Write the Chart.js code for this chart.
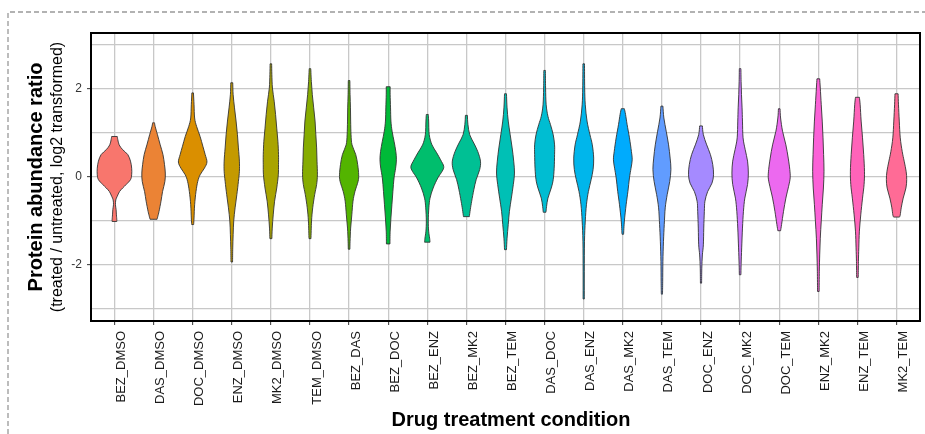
<!DOCTYPE html>
<html><head><meta charset="utf-8">
<script src="https://cdn.jsdelivr.net/npm/chart.js@4/dist/chart.umd.min.js"></script>
<style>html,body{margin:0;padding:0;background:#fff;}canvas{display:block;}</style>
</head><body>
<canvas id="c" width="925" height="434"></canvas>
<script>
const categories = ["BEZ_DMSO","DAS_DMSO","DOC_DMSO","ENZ_DMSO","MK2_DMSO","TEM_DMSO","BEZ_DAS","BEZ_DOC","BEZ_ENZ","BEZ_MK2","BEZ_TEM","DAS_DOC","DAS_ENZ","DAS_MK2","DAS_TEM","DOC_ENZ","DOC_MK2","DOC_TEM","ENZ_MK2","ENZ_TEM","MK2_TEM"];
const yMajorTicks = [-2, 0, 2];
const yGridValues = [-3, -2, -1, 0, 1, 2, 3];
const yTitle = "Protein abundance ratio";
const ySubtitle = "(treated / untreated, log2 transformed)";
const xTitle = "Drug treatment condition";

// violin profiles: [log2 ratio, half-width in category units], top to bottom
const p_BEZ_DMSO = [[0.92,0.072],[0.85,0.085],[0.73,0.12],[0.62,0.21],[0.51,0.34],[0.36,0.41],[0.20,0.44],[0.05,0.44],[-0.06,0.41],[-0.17,0.30],[-0.25,0.21],[-0.33,0.13],[-0.44,0.07],[-0.52,0.034],[-0.63,0.025],[-0.74,0.042],[-0.86,0.05],[-0.97,0.06],[-1.01,0.06]];
const p_DAS_DMSO = [[1.23,0.025],[1.15,0.04],[0.96,0.10],[0.73,0.17],[0.51,0.24],[0.28,0.28],[0.09,0.30],[-0.1,0.29],[-0.33,0.23],[-0.55,0.19],[-0.78,0.14],[-0.89,0.11],[-0.96,0.09]];
const p_DOC_DMSO = [[1.91,0.02],[1.64,0.035],[1.34,0.05],[1.15,0.10],[0.92,0.19],[0.70,0.26],[0.51,0.32],[0.34,0.365],[0.2,0.30],[0.05,0.19],[-0.1,0.13],[-0.33,0.085],[-0.63,0.05],[-0.93,0.035],[-1.08,0.025]];
const p_ENZ_DMSO = [[2.14,0.025],[1.87,0.035],[1.57,0.07],[1.27,0.11],[0.96,0.145],[0.66,0.17],[0.36,0.195],[0.13,0.195],[-0.1,0.17],[-0.4,0.13],[-0.7,0.085],[-1.0,0.05],[-1.31,0.035],[-1.61,0.025],[-1.93,0.02]];
const p_MK2_DMSO = [[2.57,0.02],[2.33,0.025],[2.02,0.04],[1.72,0.085],[1.42,0.12],[1.11,0.15],[0.81,0.18],[0.51,0.195],[0.28,0.195],[0.05,0.19],[-0.25,0.15],[-0.55,0.095],[-0.86,0.06],[-1.16,0.035],[-1.4,0.025]];
const p_TEM_DMSO = [[2.46,0.02],[2.17,0.035],[1.87,0.06],[1.57,0.095],[1.27,0.13],[0.96,0.15],[0.66,0.17],[0.36,0.18],[0.05,0.19],[-0.17,0.17],[-0.4,0.12],[-0.7,0.07],[-1.0,0.04],[-1.4,0.025]];
const p_BEZ_DAS = [[2.19,0.02],[1.87,0.025],[1.57,0.035],[1.27,0.04],[0.96,0.05],[0.73,0.075],[0.51,0.17],[0.28,0.22],[0.05,0.245],[-0.1,0.23],[-0.33,0.15],[-0.55,0.10],[-0.86,0.07],[-1.16,0.04],[-1.46,0.025],[-1.64,0.02]];
const p_BEZ_DOC = [[2.05,0.05],[1.87,0.05],[1.57,0.06],[1.27,0.07],[1.04,0.10],[0.81,0.15],[0.58,0.195],[0.39,0.21],[0.2,0.19],[-0.02,0.15],[-0.33,0.12],[-0.63,0.095],[-0.93,0.07],[-1.23,0.05],[-1.52,0.045]];
const p_BEZ_ENZ = [[1.42,0.025],[1.27,0.035],[0.96,0.05],[0.73,0.12],[0.55,0.24],[0.39,0.34],[0.24,0.42],[0.13,0.38],[-0.02,0.27],[-0.25,0.15],[-0.48,0.07],[-0.7,0.04],[-1.0,0.025],[-1.23,0.035],[-1.39,0.06],[-1.48,0.07]];
const p_BEZ_MK2 = [[1.40,0.025],[1.19,0.04],[0.96,0.085],[0.77,0.19],[0.58,0.29],[0.36,0.36],[0.17,0.34],[-0.06,0.25],[-0.29,0.19],[-0.55,0.135],[-0.74,0.10],[-0.90,0.075]];
const p_BEZ_TEM = [[1.89,0.025],[1.57,0.04],[1.27,0.07],[0.96,0.12],[0.66,0.17],[0.36,0.21],[0.09,0.23],[-0.17,0.20],[-0.48,0.15],[-0.78,0.10],[-1.08,0.07],[-1.39,0.04],[-1.65,0.025]];
const p_DAS_DOC = [[2.42,0.02],[2.02,0.025],[1.64,0.04],[1.38,0.085],[1.19,0.15],[0.96,0.22],[0.73,0.255],[0.51,0.255],[0.2,0.245],[-0.06,0.22],[-0.25,0.17],[-0.48,0.085],[-0.67,0.05],[-0.80,0.035]];
const p_DAS_ENZ = [[2.57,0.02],[2.02,0.025],[1.64,0.04],[1.27,0.085],[0.96,0.16],[0.73,0.22],[0.43,0.255],[0.17,0.24],[-0.06,0.19],[-0.33,0.12],[-0.63,0.07],[-1.0,0.04],[-1.46,0.02],[-2.14,0.015],[-2.77,0.015]];
const p_DAS_MK2 = [[1.55,0.04],[1.42,0.07],[1.19,0.11],[0.89,0.17],[0.58,0.22],[0.39,0.24],[0.2,0.21],[-0.02,0.17],[-0.33,0.13],[-0.63,0.085],[-1.0,0.04],[-1.30,0.02]];
const p_DAS_TEM = [[1.61,0.025],[1.34,0.05],[1.04,0.11],[0.73,0.17],[0.43,0.21],[0.17,0.23],[-0.1,0.20],[-0.4,0.135],[-0.7,0.085],[-1.08,0.06],[-1.46,0.04],[-1.92,0.025],[-2.38,0.02],[-2.66,0.015]];
const p_DOC_ENZ = [[1.16,0.035],[0.96,0.06],[0.73,0.145],[0.51,0.24],[0.28,0.30],[0.05,0.32],[-0.14,0.28],[-0.33,0.17],[-0.55,0.10],[-0.78,0.085],[-1.16,0.07],[-1.54,0.06],[-1.77,0.035],[-2.07,0.02],[-2.41,0.015]];
const p_DOC_MK2 = [[2.46,0.02],[2.17,0.025],[1.87,0.035],[1.57,0.05],[1.27,0.06],[0.89,0.075],[0.62,0.13],[0.36,0.19],[0.09,0.21],[-0.17,0.19],[-0.48,0.12],[-0.78,0.085],[-1.16,0.06],[-1.61,0.04],[-1.99,0.025],[-2.22,0.02]];
const p_DOC_TEM = [[1.55,0.02],[1.34,0.035],[1.04,0.085],[0.73,0.17],[0.43,0.23],[0.17,0.27],[-0.02,0.28],[-0.21,0.24],[-0.48,0.17],[-0.78,0.11],[-1.08,0.06],[-1.22,0.035]];
const p_ENZ_MK2 = [[2.23,0.035],[2.02,0.05],[1.64,0.075],[1.27,0.10],[0.89,0.12],[0.51,0.135],[0.13,0.145],[-0.25,0.13],[-0.63,0.10],[-1.0,0.075],[-1.39,0.05],[-1.77,0.035],[-2.14,0.025],[-2.6,0.02]];
const p_ENZ_TEM = [[1.81,0.05],[1.64,0.07],[1.27,0.095],[0.89,0.13],[0.51,0.16],[0.13,0.18],[-0.17,0.17],[-0.48,0.13],[-0.86,0.085],[-1.23,0.05],[-1.61,0.035],[-1.92,0.025],[-2.28,0.02]];
const p_MK2_TEM = [[1.89,0.04],[1.64,0.05],[1.27,0.07],[0.89,0.095],[0.58,0.145],[0.36,0.195],[0.13,0.245],[-0.06,0.26],[-0.25,0.24],[-0.48,0.17],[-0.70,0.12],[-0.86,0.095],[-0.91,0.075]];

const profiles = [p_BEZ_DMSO,p_DAS_DMSO,p_DOC_DMSO,p_ENZ_DMSO,p_MK2_DMSO,p_TEM_DMSO,p_BEZ_DAS,p_BEZ_DOC,p_BEZ_ENZ,p_BEZ_MK2,p_BEZ_TEM,p_DAS_DOC,p_DAS_ENZ,p_DAS_MK2,p_DAS_TEM,p_DOC_ENZ,p_DOC_MK2,p_DOC_TEM,p_ENZ_MK2,p_ENZ_TEM,p_MK2_TEM];

// ggplot2 default hue palette (hcl, c=100, l=65)
function hcl(h, c, l) {
  const WY = 100, Wu = 0.1978398, Wv = 0.4683363;
  const hr = h * Math.PI / 180;
  const U = c * Math.cos(hr), V = c * Math.sin(hr);
  const Y = WY * (l > 7.999592 ? Math.pow((l + 16) / 116, 3) : l / 903.3);
  const u = U / (13 * l) + Wu, v = V / (13 * l) + Wv;
  const X = 9.0 * Y * u / (4 * v);
  const Z = -X / 3 - 5 * Y + 3 * Y / v;
  const g = t => t > 0.00304 ? 1.055 * Math.pow(t, 1 / 2.4) - 0.055 : 12.92 * t;
  const to = t => { const k = Math.round(Math.max(0, Math.min(1, t)) * 255); return k.toString(16).padStart(2, '0'); };
  const r = g((3.240479 * X - 1.537150 * Y - 0.498535 * Z) / WY);
  const gg = g((-0.969256 * X + 1.875992 * Y + 0.041556 * Z) / WY);
  const b = g((0.055648 * X - 0.204043 * Y + 1.057311 * Z) / WY);
  return '#' + to(r) + to(gg) + to(b);
}
const colors = categories.map((_, i) => hcl(15 + i * 360 / categories.length, 100, 65));

const FONT = "'Liberation Sans', Arial, Helvetica, sans-serif";

const datasets = profiles.map((prof, i) => ({
  label: categories[i],
  violinColor: colors[i],
  pointRadius: 0,
  pointHoverRadius: 0,
  data: [
    ...prof.map(([y, w]) => ({ x: i + 1 + w, y })),
    ...prof.slice().reverse().map(([y, w]) => ({ x: i + 1 - w, y }))
  ]
}));

function spline(ctx, p) {
  for (let i = 0; i < p.length - 1; i++) {
    const p0 = p[i - 1] || p[i], p1 = p[i], p2 = p[i + 1], p3 = p[i + 2] || p[i + 1];
    ctx.bezierCurveTo(
      p1.x + (p2.x - p0.x) / 6, p1.y + (p2.y - p0.y) / 6,
      p2.x - (p3.x - p1.x) / 6, p2.y - (p3.y - p1.y) / 6,
      p2.x, p2.y);
  }
}

const violinPlugin = {
  id: 'violins',
  beforeDraw(chart) {
    const ctx = chart.ctx;
    ctx.save();
    ctx.fillStyle = '#ffffff';
    ctx.fillRect(0, 0, chart.width, chart.height);
    ctx.restore();
  },
  afterDatasetsDraw(chart) {
    const ctx = chart.ctx;
    chart.data.datasets.forEach((ds, i) => {
      const meta = chart.getDatasetMeta(i);
      const pts = meta.data.map(e => ({ x: e.x, y: e.y }));
      const n = pts.length / 2;
      const right = pts.slice(0, n), left = pts.slice(n);
      ctx.save();
      ctx.beginPath();
      ctx.moveTo(right[0].x, right[0].y);
      spline(ctx, right);
      ctx.lineTo(left[0].x, left[0].y);
      spline(ctx, left);
      ctx.closePath();
      ctx.fillStyle = ds.violinColor;
      ctx.fill();
      ctx.strokeStyle = '#333333';
      ctx.lineWidth = 0.9;
      ctx.lineJoin = 'round';
      ctx.stroke();
      ctx.restore();
    });
    const a = chart.chartArea;
    ctx.save();
    ctx.strokeStyle = '#000000';
    ctx.lineWidth = 2;
    ctx.strokeRect(a.left, a.top, a.right - a.left, a.bottom - a.top);
    ctx.restore();
  },
  afterDraw(chart) {
    const ctx = chart.ctx;
    const a = chart.chartArea;
    ctx.save();
    // dashed outer frame
    ctx.strokeStyle = '#999999';
    ctx.lineWidth = 1.3;
    ctx.setLineDash([5, 3]);
    ctx.beginPath();
    ctx.moveTo(8, 434); ctx.lineTo(8, 12); ctx.lineTo(925, 12);
    ctx.stroke();
    ctx.setLineDash([]);
    // y titles
    const cy = (a.top + a.bottom) / 2;
    ctx.fillStyle = '#000000';
    ctx.textAlign = 'center';
    ctx.textBaseline = 'alphabetic';
    ctx.save();
    ctx.translate(41.5, cy);
    ctx.rotate(-Math.PI / 2);
    ctx.font = "bold 20px " + FONT;
    ctx.fillText(yTitle, 0, 0);
    ctx.restore();
    ctx.save();
    ctx.translate(61.5, cy);
    ctx.rotate(-Math.PI / 2);
    ctx.font = "16px " + FONT;
    ctx.fillText(ySubtitle, 0, 0);
    ctx.restore();
    // x title
    ctx.font = "bold 20px " + FONT;
    ctx.fillText(xTitle, 511, 426);
    ctx.restore();
  }
};

new Chart(document.getElementById('c'), {
  type: 'scatter',
  data: { datasets },
  plugins: [violinPlugin],
  options: {
    responsive: false,
    animation: false,
    events: [],
    layout: { padding: { left: 0, right: 5, top: 33, bottom: 0 } },
    plugins: { legend: { display: false }, tooltip: { enabled: false }, title: { display: false } },
    scales: {
      x: {
        type: 'linear', min: 0.4, max: 21.6,
        afterBuildTicks: s => { s.ticks = categories.map((_, i) => ({ value: i + 1 })); },
        afterFit: s => { s.height = 113; },
        ticks: {
          autoSkip: false, minRotation: 90, maxRotation: 90, padding: 6, labelOffset: 7,
          color: '#1a1a1a', font: { family: FONT, size: 13 },
          callback: v => categories[Math.round(v) - 1]
        },
        grid: { color: '#c8c8c8', lineWidth: 1.3, tickLength: 4, tickColor: '#333333', tickWidth: 1 },
        border: { display: false }
      },
      y: {
        type: 'linear', min: -3.27, max: 3.27,
        afterBuildTicks: s => { s.ticks = yGridValues.map(v => ({ value: v })); },
        afterFit: s => { s.width = 91; },
        ticks: {
          padding: 5, color: '#333333', font: { family: FONT, size: 12 },
          callback: v => yMajorTicks.includes(v) ? String(v) : ''
        },
        grid: {
          color: '#c8c8c8', lineWidth: 1.3, tickLength: 4, tickWidth: 1,
          tickColor: c => (c.tick && yMajorTicks.includes(c.tick.value)) ? '#333333' : 'rgba(0,0,0,0)'
        },
        border: { display: false }
      }
    }
  }
});
</script>
</body></html>
